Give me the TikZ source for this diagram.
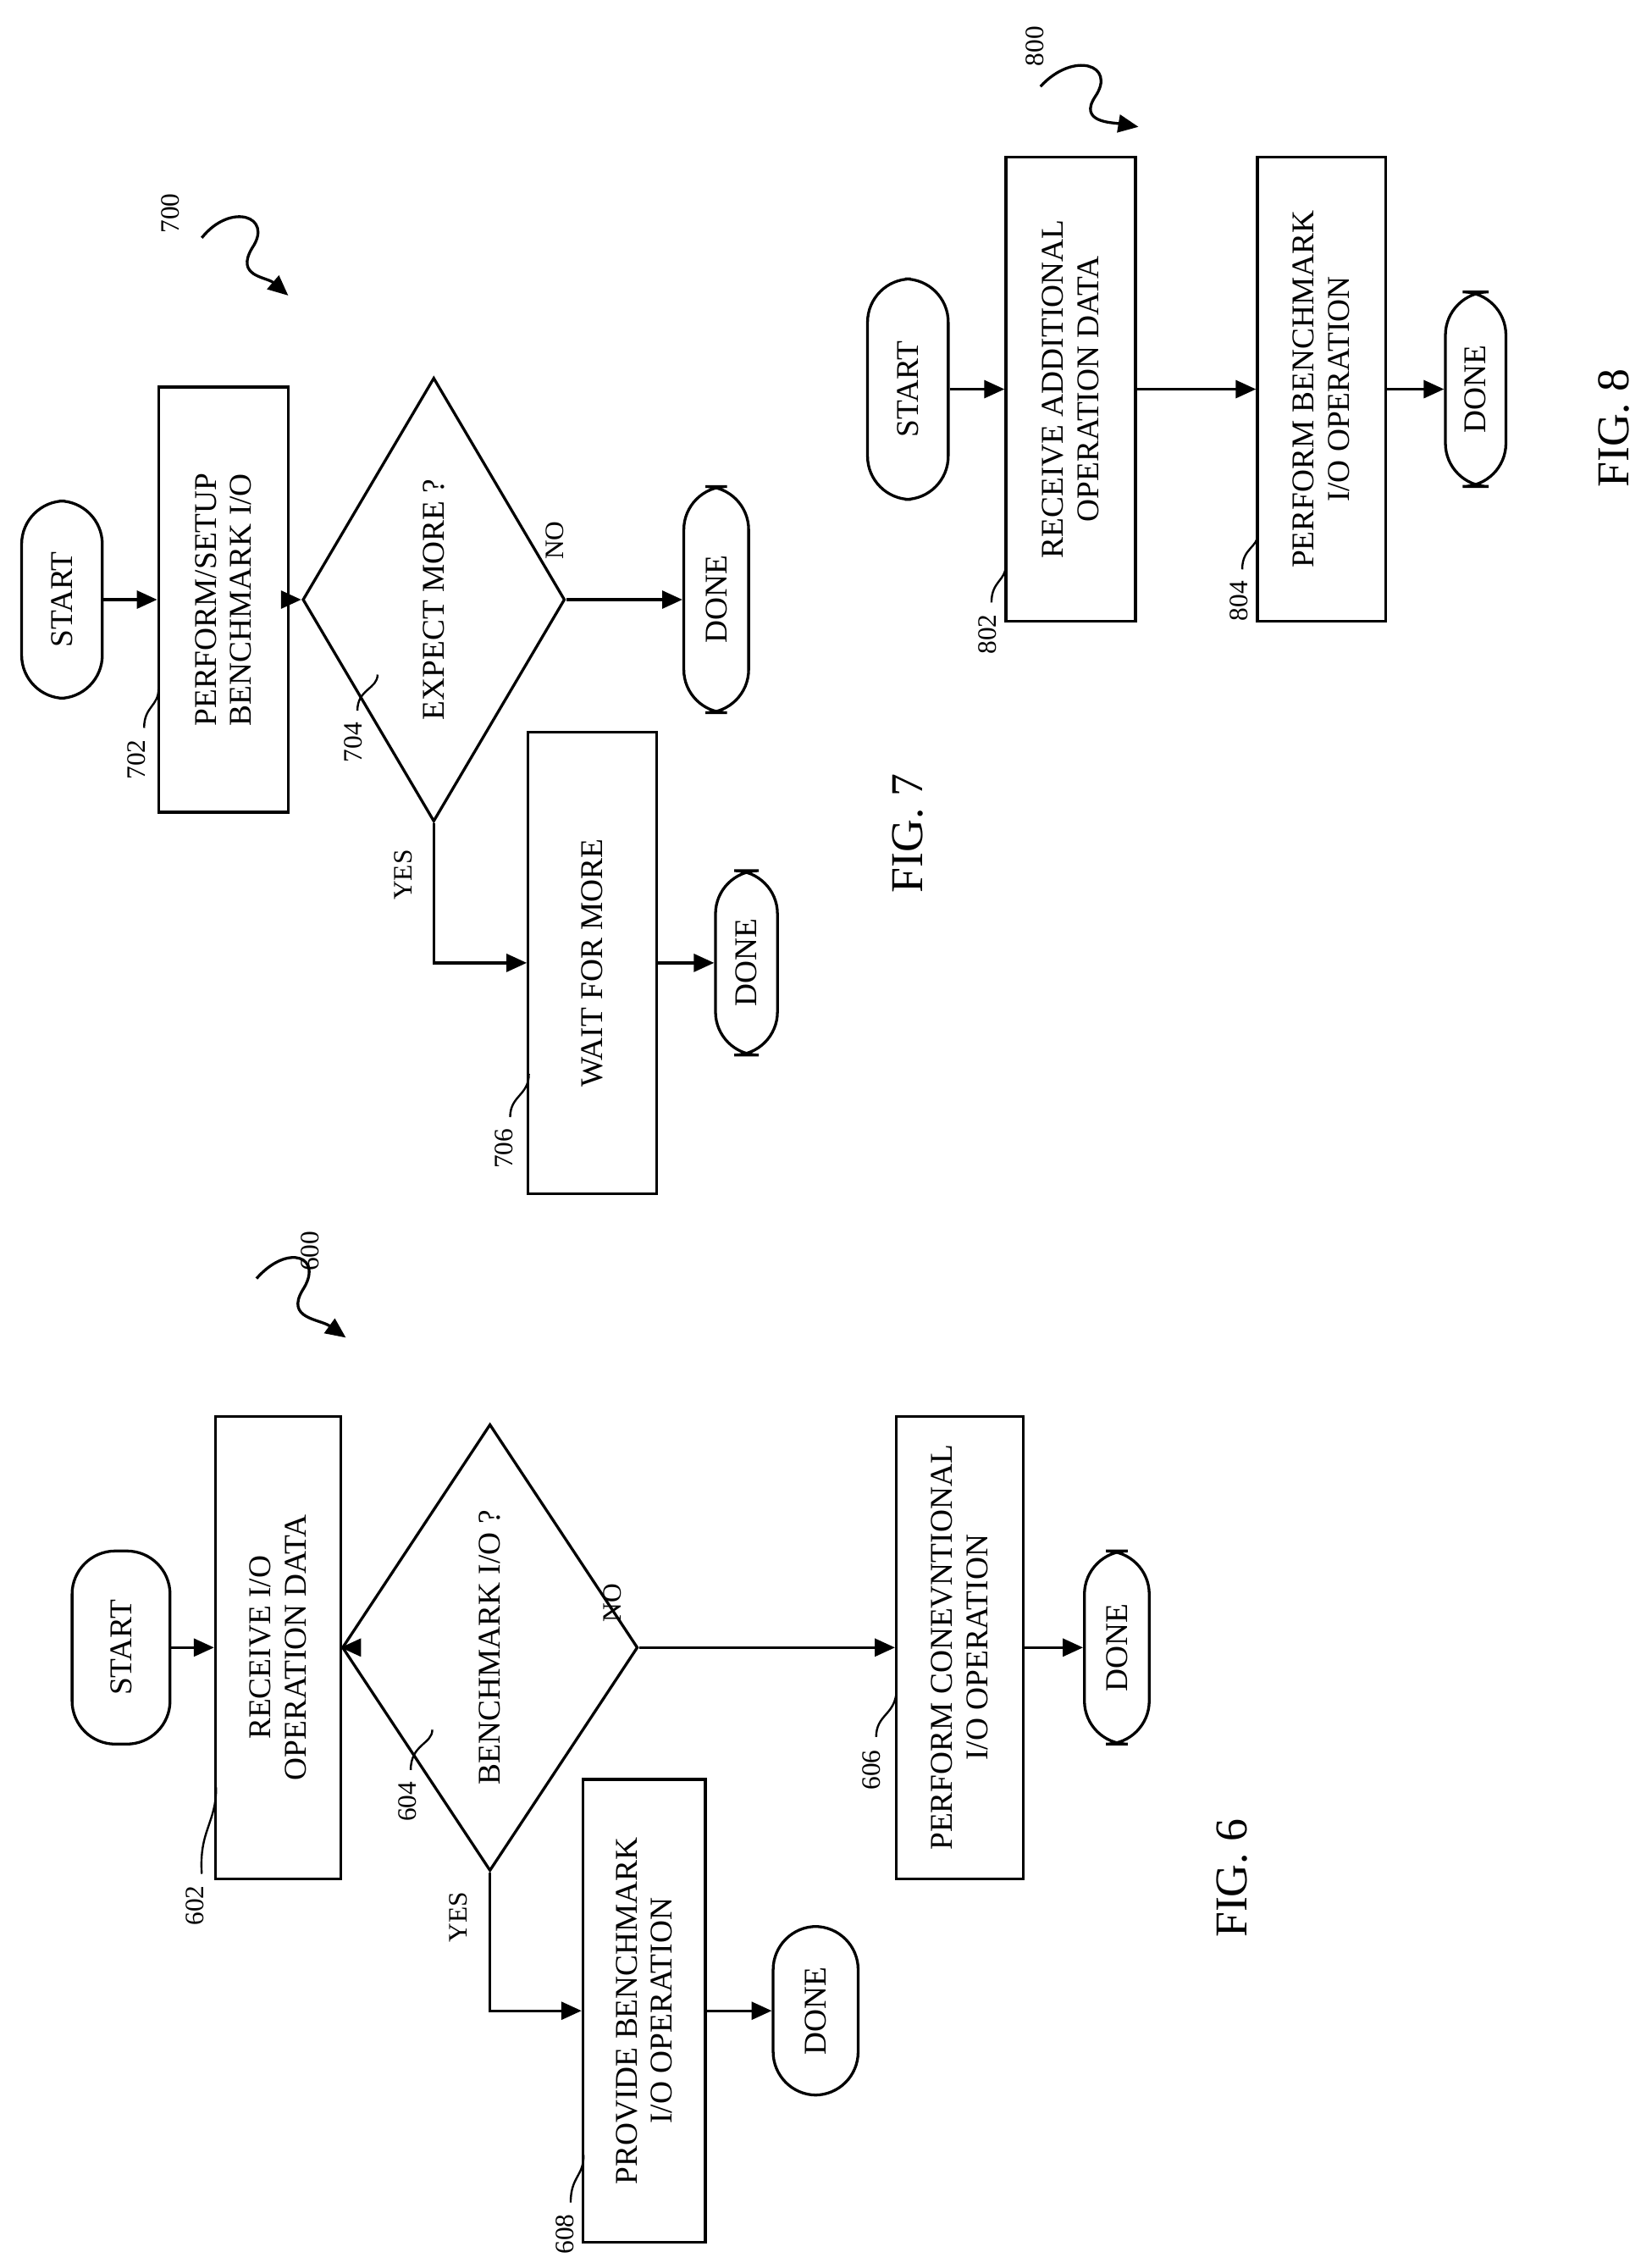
\documentclass[tikz,border=0pt]{standalone}
\usepackage{fontspec}
\setmainfont{Liberation Serif}
\usetikzlibrary{shapes.geometric,arrows.meta}
\tikzset{
  every node/.style={font=\fontsize{12.5}{14}\selectfont},
  term/.style={draw,line width=1.1pt,rounded rectangle/.style={},rounded corners=0.6cm,rotate=90,align=center,inner sep=1pt},
  blk/.style={draw,line width=1.1pt,rotate=90,align=center,inner sep=1pt},
  dec/.style={draw,line width=1.1pt,diamond,rotate=90,inner sep=0pt},
  lbl/.style={rotate=90,font=\fontsize{10.5}{12}\selectfont},
  fig/.style={rotate=90,font=\fontsize{18}{20}\selectfont},
  arr/.style={line width=1.1pt,-{Triangle[length=8pt,width=7pt]}},
  lead/.style={line width=0.8pt}
}
\begin{document}
\begin{tikzpicture}[x=0.02cm,y=-0.02cm]
\useasboundingbox (0,0) rectangle (1146,1570);
% FIG. 6
\node[term,minimum width=2.68cm,minimum height=1.36cm] (s6) at (84,1143) {START};
\node[blk,minimum width=6.42cm,minimum height=1.74cm] (b602) at (193,1143) {RECEIVE I/O\\OPERATION DATA};
\node[dec,minimum width=6.2cm,minimum height=2.3cm] (d604) at (340,1143) {BENCHMARK I/O ?};
\node[blk,minimum width=6.42cm,minimum height=1.7cm] (b608) at (447,1395) {PROVIDE BENCHMARK\\I/O OPERATION};
\node[term,minimum width=2.34cm,minimum height=1.18cm] (e608) at (566,1395) {DONE};
\node[blk,minimum width=6.42cm,minimum height=1.76cm] (b606) at (666,1143) {PERFORM CONEVNTIONAL\\I/O OPERATION};
\node[term,minimum width=2.68cm,minimum height=0.9cm] (e606) at (775,1143) {DONE};
\draw[arr] (s6) -- (b602);
\draw[arr] (b602) -- (d604);
\draw[arr] (d604.south) -- (b606);
\draw[arr] (d604.west) |- (b608);
\draw[arr] (b608) -- (e608);
\draw[arr] (b606) -- (e606);
\node[lbl] at (425,1112) {NO};
\node[lbl] at (318,1330) {YES};
\node[lbl] (n602) at (135,1322) {602};
\draw[lead] (140,1300) .. controls (138,1270) and (150,1265) .. (150,1240);
\node[lbl] (n604) at (283,1250) {604};
\draw[lead] (285,1228) .. controls (285,1210) and (300,1210) .. (300,1200);
\node[lbl] (n606) at (605,1228) {606};
\draw[lead] (608,1205) .. controls (608,1190) and (620,1190) .. (622,1175);
\node[lbl] (n608) at (392,1550) {608};
\draw[lead] (396,1528) .. controls (396,1510) and (405,1510) .. (405,1495);
\node[lbl] (n600) at (215,868) {600};
\draw[arr] (178,887) .. controls (200,862) and (225,872) .. (210,895) .. controls (198,915) and (222,915) .. (240,928);
\node[fig] at (855,1303) {FIG. 6};
% FIG. 7
\node[term,minimum width=2.74cm,minimum height=1.12cm] (s7) at (43,416) {START};
\node[blk,minimum width=5.9cm,minimum height=1.8cm] (b702) at (155,416) {PERFORM/SETUP\\BENCHMARK I/O};
\node[dec,minimum width=6.16cm,minimum height=2.34cm] (d704) at (301,416) {EXPECT MORE ?};
\node[term,minimum width=3.14cm,minimum height=0.9cm] (e704) at (497,416) {DONE};
\node[blk,minimum width=6.4cm,minimum height=1.78cm] (b706) at (411,668) {WAIT FOR MORE};
\node[term,minimum width=2.56cm,minimum height=0.86cm] (e706) at (518,668) {DONE};
\draw[arr] (s7) -- (b702);
\draw[arr] (b702) -- (d704);
\draw[arr] (d704.south) -- (e704);
\draw[arr] (d704.west) |- (b706);
\draw[arr] (b706) -- (e706);
\node[lbl] at (385,375) {NO};
\node[lbl] at (280,607) {YES};
\node[lbl] (n702) at (95,527) {702};
\draw[lead] (100,505) .. controls (100,490) and (110,490) .. (110,478);
\node[lbl] (n704) at (245,515) {704};
\draw[lead] (248,493) .. controls (248,478) and (262,478) .. (262,468);
\node[lbl] (n706) at (350,797) {706};
\draw[lead] (354,775) .. controls (354,760) and (367,760) .. (367,745);
\node[lbl] (n700) at (118,148) {700};
\draw[arr] (140,165) .. controls (160,140) and (190,150) .. (175,172) .. controls (163,192) and (185,192) .. (200,205);
\node[fig] at (630,578) {FIG. 7};
% FIG. 8
\node[term,minimum width=3.06cm,minimum height=1.12cm] (s8) at (630,270) {START};
\node[blk,minimum width=6.44cm,minimum height=1.8cm] (b802) at (743,270) {RECEIVE ADDITIONAL\\OPERATION DATA};
\node[blk,minimum width=6.44cm,minimum height=1.78cm] (b804) at (917,270) {PERFORM BENCHMARK\\I/O OPERATION};
\node[term,minimum width=2.7cm,minimum height=0.84cm] (e804) at (1024,270) {DONE};
\draw[arr] (s8) -- (b802);
\draw[arr] (b802) -- (b804);
\draw[arr] (b804) -- (e804);
\node[lbl] (n802) at (685,440) {802};
\draw[lead] (688,418) .. controls (688,403) and (698,403) .. (698,392);
\node[lbl] (n804) at (860,417) {804};
\draw[lead] (862,395) .. controls (862,380) and (873,380) .. (873,370);
\node[lbl] (n800) at (718,32) {800};
\draw[arr] (722,60) .. controls (745,35) and (775,45) .. (760,67) .. controls (748,85) and (772,85) .. (790,88);
\node[fig] at (1120,297) {FIG. 8};
\end{tikzpicture}
\end{document}
